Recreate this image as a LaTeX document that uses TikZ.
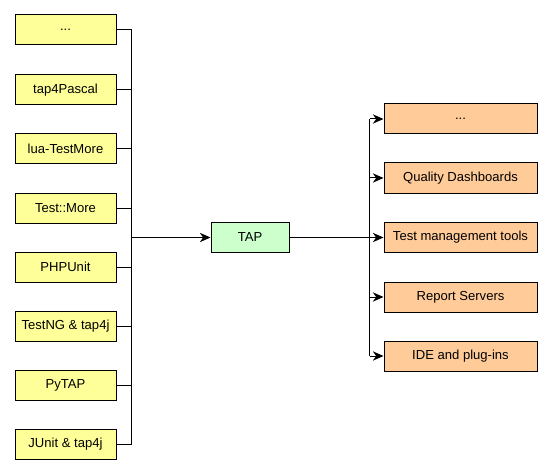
\documentclass[tikz,border=0pt]{standalone}
\usepackage{fontspec}
\setmainfont{Liberation Sans}
\usetikzlibrary{arrows.meta}
\definecolor{lyel}{HTML}{FFFF99}
\definecolor{lgrn}{HTML}{CCFFCC}
\definecolor{lorg}{HTML}{FFCC99}
\begin{document}
\begin{tikzpicture}[x=0.75pt,y=-0.75pt,
  box/.style={draw=black,line width=0.75pt,inner sep=0pt,minimum height=22.5pt,
    font=\fontsize{9.8}{11}\selectfont},
  srcbox/.style={box,fill=lyel,minimum width=75.75pt},
  tapbox/.style={box,fill=lgrn,minimum width=58.5pt},
  dstbox/.style={box,fill=lorg,minimum width=114.75pt},
  wire/.style={line width=0.75pt,draw=black},
  arr/.style={wire,-{Stealth[length=8pt,width=7pt,inset=2.5pt]}}]
\useasboundingbox[fill=white] (0,0) rectangle (553,474);
% sources
\node[srcbox] (l1) at (65.5,30) {...};
\node[srcbox] (l2) at (65.5,90) {tap4Pascal};
\node[srcbox] (l3) at (65.5,149) {lua-TestMore};
\node[srcbox] (l4) at (65.5,208) {Test::More};
\node[srcbox] (l5) at (65.5,267) {PHPUnit};
\node[srcbox] (l6) at (65.5,326) {TestNG \& tap4j};
\node[srcbox] (l7) at (65.5,385) {PyTAP};
\node[srcbox] (l8) at (65.5,444) {JUnit \& tap4j};
% TAP
\node[tapbox] (tap) at (250,237.5) {TAP};
% destinations
\node[dstbox] (r1) at (460.5,119) {...};
\node[dstbox] (r2) at (460.5,178) {Quality Dashboards};
\node[dstbox] (r3) at (460.5,237.5) {Test management tools};
\node[dstbox] (r4) at (460.5,297) {Report Servers};
\node[dstbox] (r5) at (460.5,356) {IDE and plug-ins};
% buses
\coordinate (lb) at (131.5,237.5);
\coordinate (rb) at (369.5,237.5);
\foreach \i in {1,...,8} {\draw[wire] (l\i.east) -- (l\i.east -| lb);}
\draw[wire] (l1.east -| lb) -- (l8.east -| lb);
\draw[arr] (lb) -- (tap.west);
\draw[wire] (tap.east) -- (rb);
\draw[wire] (r1.west -| rb) -- (r5.west -| rb);
\foreach \i in {1,...,5} {\draw[arr] (r\i.west -| rb) -- (r\i.west);}
\end{tikzpicture}
\end{document}
